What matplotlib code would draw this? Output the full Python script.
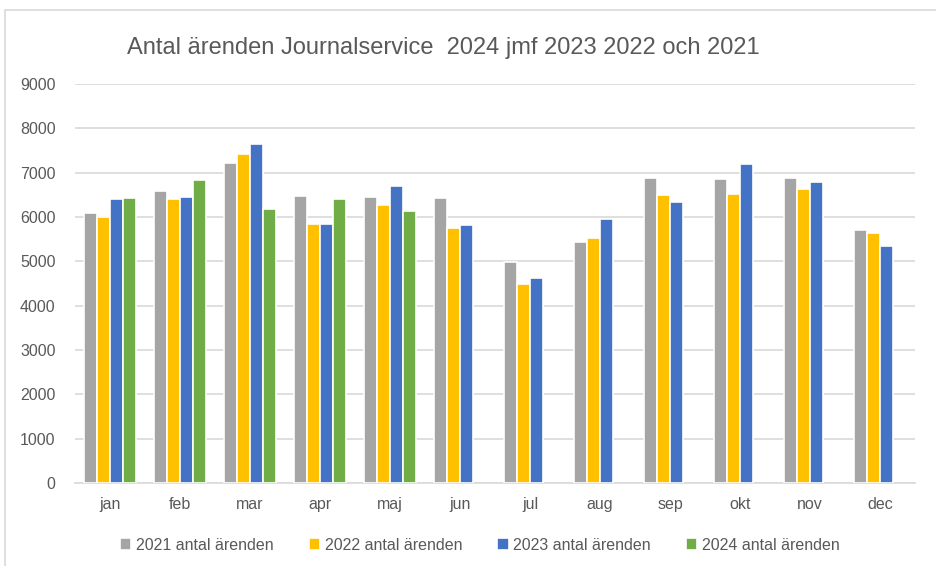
import numpy as np
import matplotlib.pyplot as plt
from matplotlib.patches import Rectangle

months = ['jan', 'feb', 'mar', 'apr', 'maj', 'jun', 'jul', 'aug', 'sep', 'okt', 'nov', 'dec']
v2021 = [6100, 6580, 7210, 6470, 6450, 6430, 4980, 5440, 6890, 6850, 6890, 5700]
v2022 = [5990, 6400, 7410, 5850, 6280, 5750, 4500, 5530, 6490, 6510, 6640, 5650]
v2023 = [6400, 6450, 7650, 5850, 6690, 5830, 4630, 5960, 6340, 7200, 6800, 5350]
v2024 = [6430, 6840, 6170, 6400, 6130, np.nan, np.nan, np.nan, np.nan, np.nan, np.nan, np.nan]
labels = ['2021 antal ärenden', '2022 antal ärenden', '2023 antal ärenden', '2024 antal ärenden']
colors = ['#A5A5A5', '#FFC000', '#4472C4', '#70AD47']

plt.rcParams['font.family'] = ['Liberation Sans Narrow', 'Liberation Sans', 'DejaVu Sans']

fig = plt.figure(figsize=(9.36, 5.66), dpi=100)
ax = fig.add_axes([75 / 936, 1 - 483 / 566, 840 / 936, 399 / 566])

x = np.arange(len(months))
w = 0.186
for i, (vals, lab, c) in enumerate(zip([v2021, v2022, v2023, v2024], labels, colors)):
    ax.bar(x + (i - 1.5) * w, vals, width=w, color=c, edgecolor='white', linewidth=1.2, label=lab, zorder=3)

ax.set_xlim(-0.5, 11.5)
ax.set_ylim(0, 9000)
ax.set_yticks(range(0, 9001, 1000))
ax.set_xticks(x)
ax.set_xticklabels(months)
ax.grid(axis='y', color='#D9D9D9', linewidth=1.2, zorder=0)
for s in ['top', 'right', 'left']:
    ax.spines[s].set_visible(False)
ax.spines['bottom'].set_color('#D9D9D9')
ax.spines['bottom'].set_linewidth(1.2)
ax.tick_params(axis='both', length=0, labelsize=11.5, colors='#595959', pad=10)
ax.tick_params(axis='y', pad=14)

fig.text(443 / 936, 1 - 48 / 566, 'Antal ärenden Journalservice  2024 jmf 2023 2022 och 2021',
         ha='center', va='center', fontsize=17, color='#595959')

fig.legend(loc='center', bbox_to_anchor=(480 / 936, 1 - 545 / 566), ncol=4, frameon=False,
           fontsize=11.5, labelcolor='#595959', handlelength=0.7, handleheight=0.7,
           handletextpad=0.3, columnspacing=2.2)

fig.patches.append(Rectangle((5 / 936, -0.1), 1.2, 1 - 10 / 566 + 0.1, transform=fig.transFigure,
                             fill=False, edgecolor='#D9D9D9', linewidth=1.2))

fig.savefig('out.png', dpi=100)
